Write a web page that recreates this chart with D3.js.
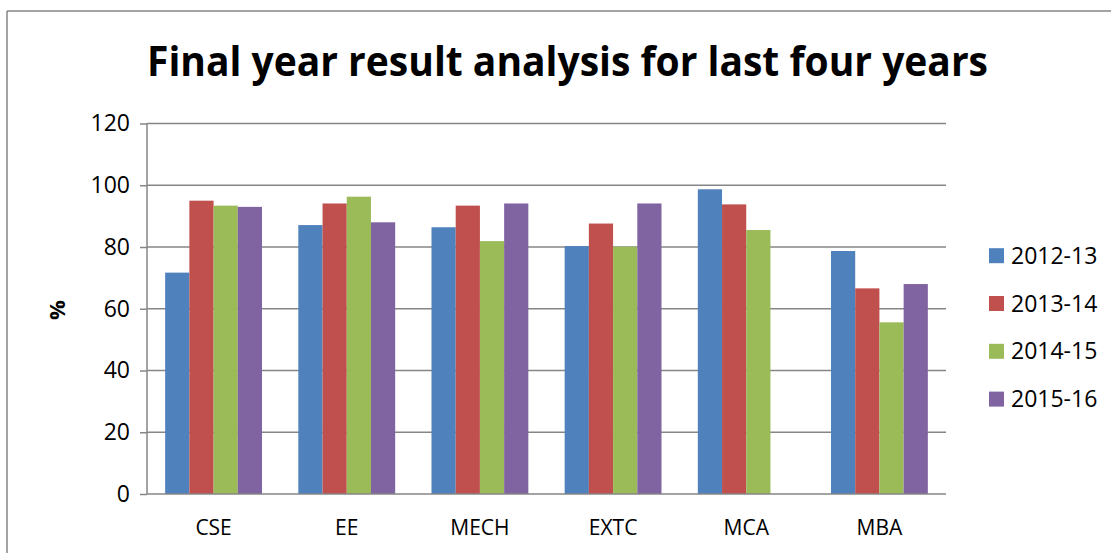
<!doctype html>
<html>
<head>
<meta charset="utf-8"/>
<style>
  html, body { margin: 0; padding: 0; background: #fff; }
  svg { display: block; }
  .tick text { font-family: "Open Sans", sans-serif; font-size: 23px; fill: #000; }
</style>
<script src="https://cdn.jsdelivr.net/npm/d3@7"></script>
</head>
<body>
<svg width="1111" height="553"></svg>
<script>
  var branches = ["CSE", "EE", "MECH", "EXTC", "MCA", "MBA"];
  var years = ["2012-13", "2013-14", "2014-15", "2015-16"];
  var v2012 = [71.7, 87.1, 86.4, 80.3, 98.7, 78.7];
  var v2013 = [95.0, 94.1, 93.4, 87.6, 93.8, 66.6];
  var v2014 = [93.4, 96.3, 81.9, 80.1, 85.5, 55.6];
  var v2015 = [93.0, 88.0, 94.1, 94.1, 0, 68.0];
  var yTicks = [0, 20, 40, 60, 80, 100, 120];
  var colors = ["#4F81BD", "#C0504D", "#9BBB59", "#8064A2"];

  var series = [v2012, v2013, v2014, v2015];
  var svg = d3.select("svg");
  var grey = "#868686";

  // outer chart frame (only top and left edges are visible in the crop)
  svg.append("line").attr("x1", 7).attr("x2", 1111).attr("y1", 11).attr("y2", 11)
    .attr("stroke", grey).attr("stroke-width", 1.5);
  svg.append("line").attr("x1", 7).attr("x2", 7).attr("y1", 11).attr("y2", 553)
    .attr("stroke", grey).attr("stroke-width", 1.5);

  svg.append("text")
    .attr("x", 147).attr("y", 76)
    .attr("textLength", 841).attr("lengthAdjust", "spacingAndGlyphs")
    .style("font-family", "'Open Sans', sans-serif")
    .style("font-weight", "bold").style("font-size", "40.5px")
    .text("Final year result analysis for last four years");

  var plotL = 147, plotR = 946, plotT = 123.5, plotB = 494;

  var x = d3.scaleBand().domain(branches).range([plotL, plotR]).paddingInner(0);
  var y = d3.scaleLinear().domain([0, 120]).range([plotB, plotT]);
  var barW = x.bandwidth() / 5.5;
  var xs = d3.scaleBand().domain(years).range([0.75 * barW, 4.75 * barW]);

  // gridlines
  svg.append("g").selectAll("line").data(yTicks.slice(1)).enter().append("line")
    .attr("x1", plotL).attr("x2", plotR)
    .attr("y1", function(d) { return y(d); }).attr("y2", function(d) { return y(d); })
    .attr("stroke", grey).attr("stroke-width", 1.5);

  // bars
  var groups = svg.append("g").selectAll("g").data(years).enter().append("g")
    .attr("fill", function(d, i) { return colors[i]; });
  groups.selectAll("rect")
    .data(function(d, i) { return branches.map(function(b, j) { return { b: b, year: d, v: series[i][j] }; }); })
    .enter().append("rect")
    .filter(function(d) { return d.v > 0; })
    .attr("x", function(d) { return x(d.b) + xs(d.year); })
    .attr("width", xs.bandwidth())
    .attr("y", function(d) { return y(d.v); })
    .attr("height", function(d) { return plotB - y(d.v); });

  // y axis
  var yAxis = svg.append("g").attr("transform", "translate(" + plotL + ",0)")
    .call(d3.axisLeft(y).tickValues(yTicks).tickSize(7).tickPadding(10));
  yAxis.selectAll("path, line").attr("stroke", grey).attr("stroke-width", 1.5);
  yAxis.select(".domain").attr("d", "M0," + plotT + "V" + plotB);

  // x axis
  var xAxis = svg.append("g").attr("transform", "translate(0," + plotB + ")")
    .call(d3.axisBottom(x).tickSize(0).tickPadding(26));
  xAxis.select(".domain").attr("stroke", grey).attr("stroke-width", 1.5)
    .attr("d", "M" + plotL + ",0H" + plotR);
  xAxis.selectAll("text").style("font-size", "21px");

  svg.append("text")
    .attr("transform", "translate(65,310) rotate(-90)")
    .attr("text-anchor", "middle")
    .style("font-family", "'Open Sans', sans-serif")
    .style("font-weight", "bold").style("font-size", "22px")
    .text("%");

  // legend
  var legend = svg.append("g").selectAll("g").data(years).enter().append("g")
    .attr("transform", function(d, i) { return "translate(989," + (255.7 + i * 47.8) + ")"; });
  legend.append("rect").attr("x", 0).attr("y", -7.5).attr("width", 15).attr("height", 15)
    .attr("fill", function(d, i) { return colors[i]; });
  legend.append("text").attr("x", 22).attr("dy", "0.35em")
    .style("font-family", "'Open Sans', sans-serif").style("font-size", "23px")
    .text(function(d) { return d; });
</script>
</body>
</html>
